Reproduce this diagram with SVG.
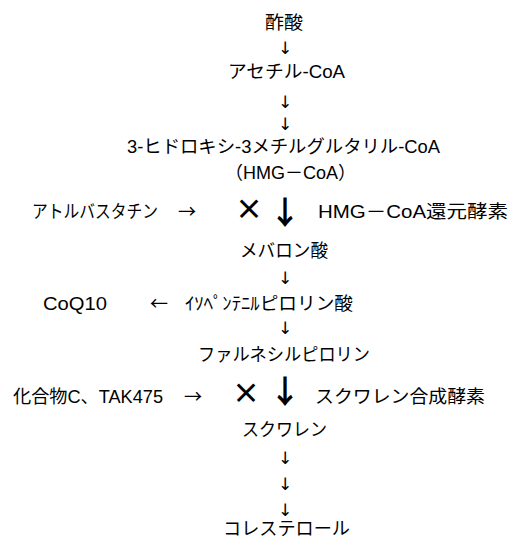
<svg xmlns="http://www.w3.org/2000/svg" width="513" height="539" viewBox="0 0 513 539">
<style>
.t{font-family:'Liberation Sans','Noto Sans CJK JP',sans-serif;font-size:18px;fill:#000}
.a{font-family:'DejaVu Sans',sans-serif;font-size:17px;fill:#000;text-anchor:middle}
.h{font-family:'Noto Sans CJK JP',sans-serif;font-size:18px;fill:#000;text-anchor:middle}
.b{font-family:'Noto Sans CJK JP',sans-serif;font-weight:bold;font-size:32px;fill:#000;text-anchor:middle}
.x{font-family:'Noto Sans CJK JP',sans-serif;font-weight:bold;font-size:28px;fill:#000;text-anchor:middle}
</style>
<rect width="513" height="539" fill="#fff"/>
<g opacity="0.999">
<g id="n-acetic"><text class="t" x="265" y="29" textLength="38" lengthAdjust="spacingAndGlyphs">酢酸</text></g>
<g id="n-acetylcoa"><text class="t" x="228" y="78" textLength="117" lengthAdjust="spacingAndGlyphs">アセチル-CoA</text></g>
<g id="n-hmgcoa"><text class="t" x="127" y="153" textLength="313" lengthAdjust="spacingAndGlyphs">3-ヒドロキシ-3メチルグルタリル-CoA</text><text class="t" x="225" y="179" textLength="131" lengthAdjust="spacingAndGlyphs">（HMG－CoA）</text></g>
<g id="n-atorvastatin"><text class="t" x="32" y="218" textLength="126" lengthAdjust="spacingAndGlyphs">アトルバスタチン</text></g>
<g id="n-hmgr"><text class="t" x="318" y="218" textLength="190" lengthAdjust="spacingAndGlyphs">HMG－CoA還元酵素</text></g>
<g id="n-mevalonate"><text class="t" x="240" y="257" textLength="88" lengthAdjust="spacingAndGlyphs">メバロン酸</text></g>
<g id="n-coq10"><text class="t" x="43" y="310" textLength="64" lengthAdjust="spacingAndGlyphs">CoQ10</text></g>
<g id="n-ipp"><text class="t" x="185" y="310" textLength="168" lengthAdjust="spacingAndGlyphs">ｲｿﾍﾟﾝﾃﾆﾙピロリン酸</text></g>
<g id="n-fpp"><text class="t" x="198" y="361" textLength="172" lengthAdjust="spacingAndGlyphs">ファルネシルピロリン</text></g>
<g id="n-compoundc"><text class="t" x="13" y="403" textLength="150" lengthAdjust="spacingAndGlyphs">化合物C、TAK475</text></g>
<g id="n-sqs"><text class="t" x="315" y="403" textLength="170" lengthAdjust="spacingAndGlyphs">スクワレン合成酵素</text></g>
<g id="n-squalene"><text class="t" x="242" y="436" textLength="85" lengthAdjust="spacingAndGlyphs">スクワレン</text></g>
<g id="n-cholesterol"><text class="t" x="223" y="535" textLength="127" lengthAdjust="spacingAndGlyphs">コレステロール</text></g>
<g id="connectors">
<text class="a" x="285" y="54">↓</text>
<text class="a" x="285" y="108">↓</text>
<text class="a" x="285" y="130">↓</text>
<text class="h" x="187" y="218">→</text>
<text class="x" x="249" y="220">×</text>
<text class="b" x="285" y="224">↓</text>
<text class="a" x="285" y="284">↓</text>
<text class="h" x="159" y="310">←</text>
<text class="a" x="285" y="334">↓</text>
<text class="h" x="193" y="403">→</text>
<text class="x" x="246" y="404">×</text>
<text class="b" x="285" y="403">↓</text>
<text class="a" x="285" y="464">↓</text>
<text class="a" x="285" y="490">↓</text>
<text class="a" x="285" y="516">↓</text>
</g>
</g>
</svg>
